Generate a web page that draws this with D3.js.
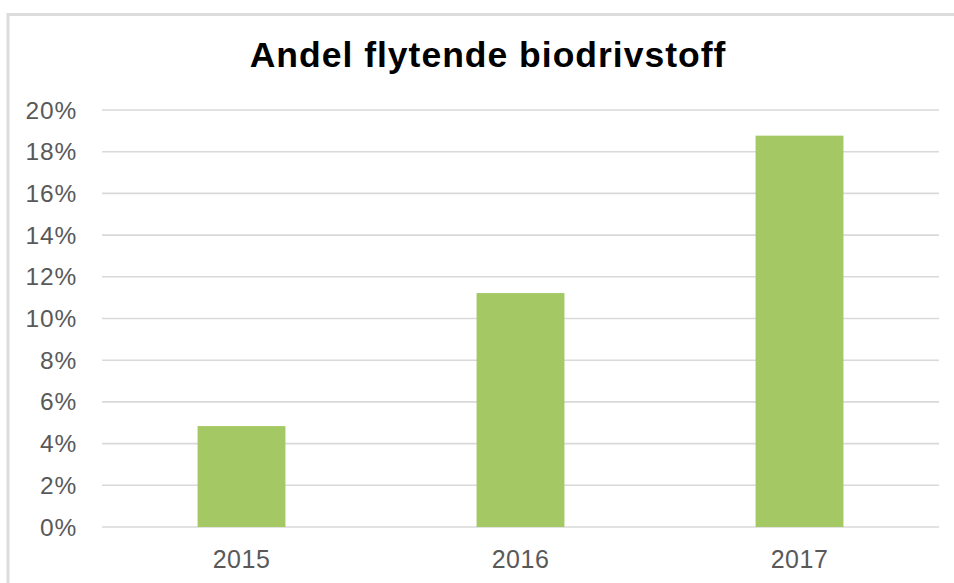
<!DOCTYPE html>
<html>
<head>
<meta charset="utf-8">
<script src="https://cdn.jsdelivr.net/npm/d3@7"></script>
<style>
html,body{margin:0;padding:0;background:#fff;}
svg{display:block;}
</style>
</head>
<body>
<script>
const title = "Andel flytende biodrivstoff";
const categories = ["2015", "2016", "2017"];
const values = [0.0484, 0.1122, 0.1877];
const yTicks = [0, 0.02, 0.04, 0.06, 0.08, 0.10, 0.12, 0.14, 0.16, 0.18, 0.20];

const W = 954, H = 583;
const svg = d3.select("body").append("svg").attr("width", W).attr("height", H);

// chart frame
svg.append("rect")
  .attr("x", 8).attr("y", 14.5)
  .attr("width", W + 20).attr("height", H + 20)
  .attr("fill", "#fff")
  .attr("stroke", "#dcdcdc").attr("stroke-width", 3);

const plot = {left: 102, right: 939, top: 110, bottom: 527};

const x = d3.scaleBand().domain(categories)
  .range([plot.left, plot.right])
  .paddingInner(0.685).paddingOuter(0.3425);
const y = d3.scaleLinear().domain([0, 0.20]).range([plot.bottom, plot.top]);

// gridlines
svg.append("g").selectAll("line").data(yTicks).join("line")
  .attr("x1", plot.left).attr("x2", plot.right)
  .attr("y1", d => y(d)).attr("y2", d => y(d))
  .attr("stroke", "#d9d9d9").attr("stroke-width", 1.6);

// bars
svg.append("g").selectAll("rect").data(values).join("rect")
  .attr("x", (d, i) => x(categories[i]))
  .attr("width", x.bandwidth())
  .attr("y", d => y(d))
  .attr("height", d => y(0) - y(d))
  .attr("fill", "#a4c964");

// y labels
const fmt = d3.format(".0%");
svg.append("g").selectAll("text").data(yTicks).join("text")
  .attr("x", 77).attr("y", d => y(d) + 8.5)
  .attr("text-anchor", "end")
  .attr("font-family", "Liberation Sans, Arial, sans-serif")
  .attr("font-size", 24.5)
  .attr("letter-spacing", "0.8px")
  .attr("fill", "#595959")
  .text(d => fmt(d));

// x labels
svg.append("g").selectAll("text").data(categories).join("text")
  .attr("x", d => x(d) + x.bandwidth() / 2)
  .attr("y", 567.5)
  .attr("text-anchor", "middle")
  .attr("font-family", "Liberation Sans, Arial, sans-serif")
  .attr("font-size", 25)
  .attr("letter-spacing", "0.5px")
  .attr("fill", "#595959")
  .text(d => d);

// title
svg.append("text")
  .attr("x", 488).attr("y", 67)
  .attr("text-anchor", "middle")
  .attr("font-family", "Liberation Sans, Arial, sans-serif")
  .attr("font-weight", "bold")
  .attr("font-size", 35.5)
  .attr("letter-spacing", "1px")
  .attr("fill", "#000")
  .text(title);
</script>
</body>
</html>
